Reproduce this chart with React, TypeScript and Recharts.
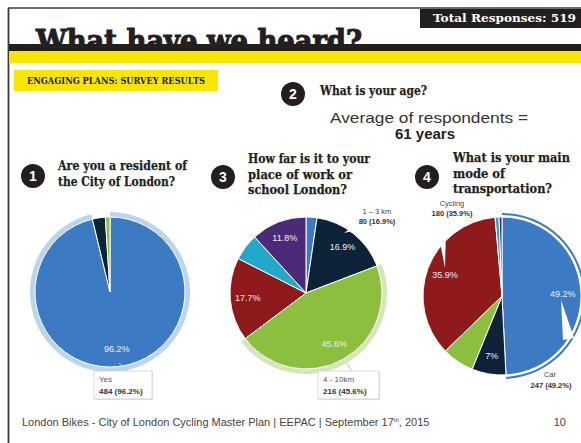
import React from 'react';
import { PieChart, Pie, Cell } from 'recharts';

// Q1 - resident of the City of London
const residentNames = ['Yes', 'No', 'Unsure'];
const residentCounts = [484, 14, 5];
const residentPct = ['96.2%', '', ''];

// Q3 - distance to work / school
const distanceNames = ['Less than 1 km', '1 – 3 km', '4 - 10km', '11 - 20 km', 'Over 20 km', 'N/A'];
const distanceCounts = [11, 80, 216, 84, 27, 56];
const distancePct = ['', '16.9%', '45.6%', '17.7%', '', '11.8%'];

// Q4 - main mode of transportation
const modeNames = ['Car', 'Transit', 'Walking', 'Cycling', 'Carpool', 'Other'];
const modeCounts = [247, 35, 33, 180, 4, 3];
const modePct = ['49.2%', '7%', '', '35.9%', '', ''];

const BLUE = '#3d7ac4';
const NAVY = '#0e2238';
const GREEN = '#8cbf3e';
const RED = '#8e1a1c';
const CYAN = '#22a8c8';
const PURPLE = '#4d2a77';
const sixColors = [BLUE, NAVY, GREEN, RED, CYAN, PURPLE];

const SERIF = '"DejaVu Serif", serif';
const SANS = '"Liberation Sans", Arial, sans-serif';

const toData = (names: string[], counts: number[]) =>
  names.map((name, i) => ({ name, value: counts[i] }));

const residentData = toData(residentNames, residentCounts);
const distanceData = toData(distanceNames, distanceCounts);
const modeData = toData(modeNames, modeCounts);

const RAD = Math.PI / 180;
const pctLabel = (labels: string[]) => (p: any) => {
  const r = p.outerRadius * 0.77;
  const x = p.cx + r * Math.cos(-p.midAngle * RAD);
  const y = p.cy + r * Math.sin(-p.midAngle * RAD);
  return (
    <text
      x={x}
      y={y}
      fill="#e9f0f8"
      fontSize={9}
      fontFamily={SANS}
      textAnchor="middle"
      dominantBaseline="central"
    >
      {labels[p.index]}
    </text>
  );
};

function Badge({ x, y, n }: { x: number; y: number; n: string }) {
  return (
    <g>
      <circle cx={x} cy={y} r={12} fill="#231f20" />
      <text x={x} y={y + 5} fill="#fff" fontSize={14} fontWeight="bold" fontFamily={SANS} textAnchor="middle">
        {n}
      </text>
    </g>
  );
}

function Question({ x, y, lines, widths }: { x: number; y: number; lines: string[]; widths: number[] }) {
  return (
    <g>
      {lines.map((t, i) => (
        <text key={t} x={x} y={y + i * 15.5} fontSize={12} fontWeight="bold" fontFamily={SERIF}
          fill="#231f20" stroke="#231f20" strokeWidth={0.25}
          textLength={widths[i]} lengthAdjust="spacingAndGlyphs">
          {t}
        </text>
      ))}
    </g>
  );
}

function Callout({ x, y, w, title, value }: { x: number; y: number; w: number; title: string; value: string }) {
  return (
    <g>
      <rect x={x + 1} y={y + 1} width={w} height={28} fill="#e2e2e2" />
      <rect x={x} y={y} width={w} height={28} fill="#fff" stroke="#cfcfcf" strokeWidth={0.8} />
      <text x={x + 5} y={y + 11} fontSize={8} fill="#555" fontFamily={SANS}>{title}</text>
      <text x={x + 5} y={y + 23} fontSize={8} fontWeight="bold" fill="#333" fontFamily={SANS}>{value}</text>
    </g>
  );
}

export default function App() {
  const abs: React.CSSProperties = { position: 'absolute', left: 0, top: 0 };
  return (
    <div style={{ position: 'absolute', left: 0, top: 0, width: 581, height: 443, background: '#fff', overflow: 'hidden' }}>
      <svg width={581} height={443} style={abs}>
        <line x1={8} y1={8} x2={581} y2={8} stroke="#3a3a3a" strokeWidth={1.5} />
        <line x1={8.5} y1={8} x2={8.5} y2={443} stroke="#3a3a3a" strokeWidth={1.8} />
        <text x={36} y={51} fontSize={29} fontWeight="bold" fontFamily={SERIF} fill="#231f20"
          stroke="#231f20" strokeWidth={1.2} textLength={326} lengthAdjust="spacingAndGlyphs">
          What have we heard?
        </text>
        <rect x={9} y={44} width={572} height={7} fill="#231f20" />
        <rect x={9} y={51} width={572} height={12} fill="#f8e600" />
        <rect x={420} y={9} width={161} height={19} fill="#231f20" />
        <text x={433} y={22} fontSize={10.5} fontWeight="bold" fontFamily={SERIF} fill="#fff" textLength={143} lengthAdjust="spacingAndGlyphs">
          Total Responses:  519
        </text>
        <rect x={14} y={70} width={204} height={21} fill="#f8e600" />
        <text x={27} y={84} fontSize={8.5} fontWeight="bold" fontFamily={SERIF} fill="#231f20" textLength={178} lengthAdjust="spacingAndGlyphs">
          ENGAGING PLANS: SURVEY RESULTS
        </text>

        <Badge x={293} y={94} n="2" />
        <Question x={320} y={95} lines={['What is your age?']} widths={[107]} />
        <text x={330} y={123} fontSize={15} fontFamily={SANS} fill="#333" textLength={198} lengthAdjust="spacingAndGlyphs">
          Average of respondents =
        </text>
        <text x={425} y={139} fontSize={15} fontWeight="bold" fontFamily={SANS} fill="#222" textAnchor="middle">
          61 years
        </text>

        <Badge x={33} y={176} n="1" />
        <Question x={58} y={170} lines={['Are you a resident of', 'the City of London?']} widths={[129, 117]} />

        <Badge x={223} y={177} n="3" />
        <Question x={248} y={163} lines={['How far is it to your', 'place of work or', 'school London?']} widths={[122, 104, 99]} />

        <Badge x={427} y={177} n="4" />
        <Question x={453} y={162} lines={['What is your main', 'mode of', 'transportation?']} widths={[117, 52, 99]} />

        <text x={22} y={426} fontSize={11} fontFamily={SANS} fill="#444">
          London Bikes - City of London Cycling Master Plan | EEPAC | September 17
          <tspan fontSize={6} dy={-4}>th</tspan>
          <tspan dy={4}>, 2015</tspan>
        </text>
        <text x={566} y={426} fontSize={11} fontFamily={SANS} fill="#444" textAnchor="end">10</text>
      </svg>

      <div style={abs}>
        <PieChart width={581} height={443}>
          {/* Q1 */}
          <Pie data={residentData} dataKey="value" cx={105} cy={287} innerRadius={75} outerRadius={80}
            startAngle={90} endAngle={-270} stroke="none" isAnimationActive={false}>
            {residentData.map((d, i) => <Cell key={d.name} fill={i === 0 ? '#bcd5ee' : 'transparent'} />)}
          </Pie>
          <Pie data={residentData} dataKey="value" cx={105} cy={287} outerRadius={75}
            startAngle={90} endAngle={-270} stroke="#fff" strokeWidth={1}
            label={pctLabel(residentPct)} labelLine={false} isAnimationActive={false}>
            {residentData.map((d, i) => <Cell key={d.name} fill={sixColors[i]} />)}
          </Pie>

          {/* Q3 */}
          <Pie data={distanceData} dataKey="value" cx={301} cy={288} innerRadius={76} outerRadius={81}
            startAngle={90} endAngle={-270} stroke="none" isAnimationActive={false}>
            {distanceData.map((d, i) => <Cell key={d.name} fill={i === 2 ? '#d4e7bb' : 'transparent'} />)}
          </Pie>
          <Pie data={distanceData} dataKey="value" cx={301} cy={288} outerRadius={76}
            startAngle={90} endAngle={-270} stroke="#fff" strokeWidth={1}
            label={pctLabel(distancePct)} labelLine={false} isAnimationActive={false}>
            {distanceData.map((d, i) => <Cell key={d.name} fill={sixColors[i]} />)}
          </Pie>

          {/* Q4 */}
          <Pie data={modeData} dataKey="value" cx={497} cy={291} innerRadius={81} outerRadius={83}
            startAngle={90} endAngle={-270} stroke="none" isAnimationActive={false}>
            {modeData.map((d, i) => <Cell key={d.name} fill={i === 0 ? BLUE : 'transparent'} />)}
          </Pie>
          <Pie data={modeData} dataKey="value" cx={497} cy={291} outerRadius={79}
            startAngle={90} endAngle={-270} stroke="#fff" strokeWidth={1}
            label={pctLabel(modePct)} labelLine={false} isAnimationActive={false}>
            {modeData.map((d, i) => <Cell key={d.name} fill={sixColors[i]} />)}
          </Pie>
        </PieChart>
      </div>

      <svg width={581} height={443} style={{ ...abs, pointerEvents: 'none' }}>
        {/* callout pointers */}
        <polygon points="439,237 446,229 445,268" fill="#fff" />
        <polygon points="561,300 563,340 574,338" fill="#fff" />
        <polygon points="344,233 358,223 362,229" fill="#fff" />
        <line x1={119} y1={363} x2={128} y2={371} stroke="#c8c8c8" />
        <line x1={347} y1={364} x2={352} y2={371} stroke="#c8c8c8" />

        <Callout x={94} y={371} w={58} title={residentNames[0]} value={`${residentCounts[0]} (${residentPct[0]})`} />
        <Callout x={318} y={371} w={61} title={distanceNames[2]} value={`${distanceCounts[2]} (${distancePct[2]})`} />

        <text x={377} y={214} fontSize={7.5} fill="#444" fontFamily={SANS} textAnchor="middle">{distanceNames[1]}</text>
        <text x={377} y={224} fontSize={7.5} fontWeight="bold" fill="#333" fontFamily={SANS} textAnchor="middle">
          {`${distanceCounts[1]} (${distancePct[1]})`}
        </text>
        <text x={452} y={206} fontSize={7.5} fill="#444" fontFamily={SANS} textAnchor="middle">{modeNames[3]}</text>
        <text x={452} y={216} fontSize={7.5} fontWeight="bold" fill="#333" fontFamily={SANS} textAnchor="middle">
          {`${modeCounts[3]} (${modePct[3]})`}
        </text>
        <text x={550} y={377} fontSize={7.5} fill="#444" fontFamily={SANS} textAnchor="middle">{modeNames[0]}</text>
        <text x={551} y={388} fontSize={7.5} fontWeight="bold" fill="#333" fontFamily={SANS} textAnchor="middle">
          {`${modeCounts[0]} (${modePct[0]})`}
        </text>
      </svg>
    </div>
  );
}
